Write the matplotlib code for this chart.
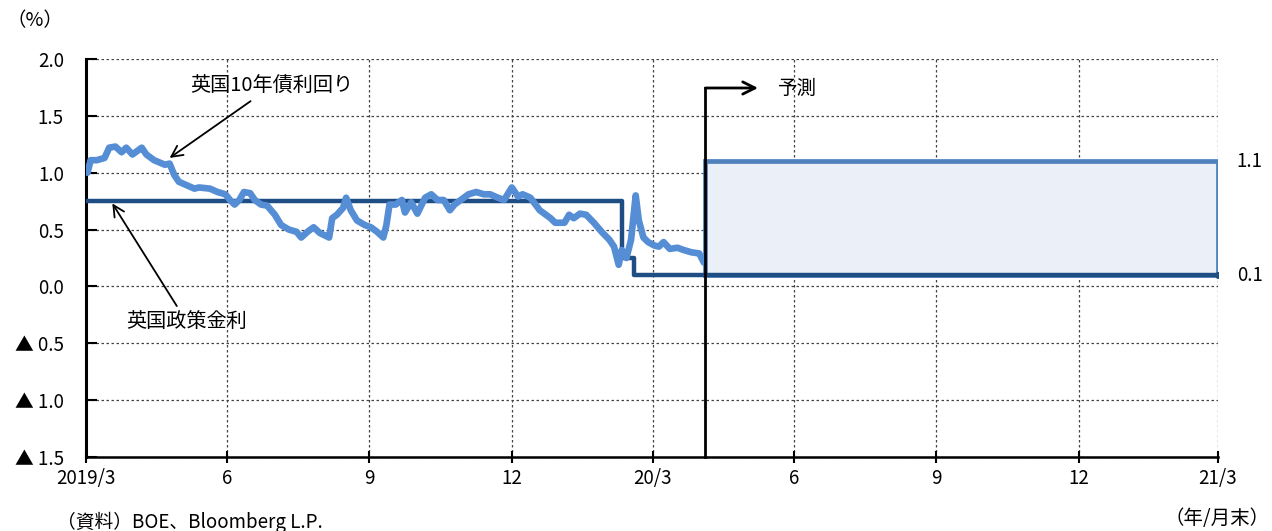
import matplotlib
matplotlib.use('Agg')
import matplotlib.pyplot as plt
import matplotlib.dates as mdates
from matplotlib.patches import Rectangle
import matplotlib.transforms as mtrans
import pandas as pd

plt.rcParams['font.family'] = ['Noto Sans CJK JP', 'DejaVu Sans']

# UK 10y gilt yield
gilt_dates = ['2019-04-01', '2019-04-03', '2019-04-07', '2019-04-12', '2019-04-15', '2019-04-19',
              '2019-04-23', '2019-04-26', '2019-04-30', '2019-05-04', '2019-05-06', '2019-05-09',
              '2019-05-14', '2019-05-21', '2019-05-24', '2019-05-27', '2019-05-30', '2019-06-04',
              '2019-06-09', '2019-06-12', '2019-06-19', '2019-06-24', '2019-06-29', '2019-07-02',
              '2019-07-05', '2019-07-08', '2019-07-11', '2019-07-15', '2019-07-18', '2019-07-22',
              '2019-07-26', '2019-07-31', '2019-08-04', '2019-08-09', '2019-08-14', '2019-08-17',
              '2019-08-21', '2019-08-25', '2019-08-29', '2019-09-01', '2019-09-04', '2019-09-06',
              '2019-09-09', '2019-09-13', '2019-09-15', '2019-09-18', '2019-09-22', '2019-09-27',
              '2019-10-01', '2019-10-05', '2019-10-09', '2019-10-11', '2019-10-13', '2019-10-17',
              '2019-10-21', '2019-10-23', '2019-10-27', '2019-10-31', '2019-11-05', '2019-11-09',
              '2019-11-13', '2019-11-17', '2019-11-21', '2019-11-24', '2019-11-28', '2019-12-03',
              '2019-12-08', '2019-12-13', '2019-12-17', '2019-12-22', '2019-12-26', '2019-12-31',
              '2020-01-04', '2020-01-07', '2020-01-12', '2020-01-18', '2020-01-21', '2020-01-25',
              '2020-01-28', '2020-01-31', '2020-02-03', '2020-02-06', '2020-02-09', '2020-02-13',
              '2020-02-17', '2020-02-22', '2020-02-27', '2020-03-03', '2020-03-06', '2020-03-09',
              '2020-03-11', '2020-03-14', '2020-03-17', '2020-03-20', '2020-03-22', '2020-03-25',
              '2020-03-28', '2020-04-01', '2020-04-04', '2020-04-07', '2020-04-11', '2020-04-16',
              '2020-04-20', '2020-04-25', '2020-04-30', '2020-05-03']
gilt_values = [1.00, 1.11, 1.11, 1.13, 1.22, 1.23,
               1.18, 1.22, 1.16, 1.20, 1.22, 1.16,
               1.11, 1.07, 1.08, 0.98, 0.92, 0.89,
               0.86, 0.87, 0.86, 0.83, 0.81, 0.76,
               0.72, 0.76, 0.83, 0.82, 0.76, 0.72,
               0.71, 0.63, 0.54, 0.50, 0.48, 0.43,
               0.48, 0.52, 0.47, 0.45, 0.43, 0.60,
               0.63, 0.69, 0.78, 0.67, 0.58, 0.54,
               0.52, 0.48, 0.43, 0.54, 0.72, 0.72,
               0.76, 0.65, 0.74, 0.64, 0.78, 0.81,
               0.76, 0.76, 0.67, 0.72, 0.76, 0.81,
               0.83, 0.81, 0.81, 0.78, 0.76, 0.87,
               0.79, 0.81, 0.78, 0.67, 0.64, 0.60,
               0.56, 0.56, 0.56, 0.63, 0.60, 0.64,
               0.63, 0.56, 0.48, 0.41, 0.35, 0.19,
               0.32, 0.25, 0.41, 0.80, 0.58, 0.43,
               0.39, 0.36, 0.35, 0.39, 0.33, 0.34,
               0.32, 0.30, 0.29, 0.21]

# Bank Rate steps
policy_dates = ['2019-03-31', '2020-03-11', '2020-03-19', '2021-03-31']
policy_values = [0.75, 0.25, 0.10, 0.10]

# forecast range
fc_start = '2020-05-04'
fc_end = '2021-03-31'
fc_low = 0.1
fc_high = 1.1

x_ticks = ['2019-03-31', '2019-06-30', '2019-09-30', '2019-12-31', '2020-03-31',
           '2020-06-30', '2020-09-30', '2020-12-31', '2021-03-31']
x_labels = ['2019/3', '6', '9', '12', '20/3', '6', '9', '12', '21/3']
y_ticks = [-1.5, -1.0, -0.5, 0.0, 0.5, 1.0, 1.5, 2.0]
y_labels = ['▲ 1.5', '▲ 1.0', '▲ 0.5', '0.0', '0.5', '1.0', '1.5', '2.0']

c_gilt = '#558ED5'
c_policy = '#1F4E85'
c_box = '#4F81BD'
c_fill = '#EAEFF8'

fig = plt.figure(figsize=(12.72, 5.31), dpi=100)
ax = fig.add_axes([0.0676, 0.1394, 0.8899, 0.7495])

gd = pd.to_datetime(gilt_dates)
pd_ = pd.to_datetime(policy_dates)
fs, fe = pd.to_datetime(fc_start), pd.to_datetime(fc_end)

# forecast box
x0 = mdates.date2num(fs)
x1 = mdates.date2num(fe)
ax.add_patch(Rectangle((x0, fc_low), x1 - x0, fc_high - fc_low,
                       facecolor=c_fill, edgecolor=c_box, lw=3.4, zorder=2))

ax.step(pd_, policy_values, where='post', color=c_policy, lw=3.2, zorder=3)
ax.plot(gd, gilt_values, color=c_gilt, lw=4.8, zorder=4,
        solid_capstyle='round', solid_joinstyle='round')
ax.plot([fe], [fc_low], marker='o', ms=4, color=c_policy, zorder=5)

# forecast marker line
ax.plot([fs, fs], [-1.5, 1.745], color='black', lw=2, zorder=6, clip_on=False)
ax.annotate('', xy=(pd.Timestamp('2020-06-07'), 1.745), xytext=(fs, 1.745),
            arrowprops=dict(arrowstyle='->', color='black', lw=2, mutation_scale=22,
                            shrinkA=0, shrinkB=0), zorder=6)
ax.text(pd.Timestamp('2020-06-20'), 1.745, '予測', fontsize=14, va='center', ha='left')

# series labels
ax.annotate('英国10年債利回り', xy=(pd.Timestamp('2019-05-24'), 1.13),
            xytext=(pd.Timestamp('2019-07-29'), 1.76), fontsize=14.5, ha='center', va='center',
            arrowprops=dict(arrowstyle='->', color='black', lw=1.3, mutation_scale=20,
                            shrinkA=2, shrinkB=0))
ax.annotate('英国政策金利', xy=(pd.Timestamp('2019-04-17'), 0.73),
            xytext=(pd.Timestamp('2019-06-04'), -0.31), fontsize=14.5, ha='center', va='center',
            arrowprops=dict(arrowstyle='->', color='black', lw=1.3, mutation_scale=20,
                            shrinkA=2, shrinkB=0))

trans = mtrans.blended_transform_factory(ax.transAxes, ax.transData)
ax.text(1.028, fc_high, '1.1', transform=trans, fontsize=13.5, ha='center', va='center')
ax.text(1.028, fc_low, '0.1', transform=trans, fontsize=13.5, ha='center', va='center')

ax.set_xlim(pd.Timestamp('2019-03-31'), pd.Timestamp('2021-03-31'))
ax.set_ylim(-1.5, 2.0)
ax.set_xticks(pd.to_datetime(x_ticks))
ax.set_xticklabels(x_labels, fontsize=13.5)
ax.set_yticks(y_ticks)
ax.set_yticklabels(y_labels, fontsize=13.5)
ax.tick_params(axis='x', direction='inout', length=8, width=1.5, pad=4)
ax.tick_params(axis='y', direction='in', length=8, width=1.5, pad=16)

ax.grid(True, color='#444444', linestyle=(0, (2, 2)), lw=0.9)
ax.set_axisbelow(True)
for s in ['top', 'right']:
    ax.spines[s].set_visible(False)
ax.spines['left'].set_linewidth(2.2)
ax.spines['bottom'].set_linewidth(1.8)

fig.text(0.005, 0.962, '（%）', fontsize=14, ha='left', va='center')
fig.text(0.045, 0.017, '（資料）BOE、Bloomberg L.P.', fontsize=13.5, ha='left', va='center')
fig.text(0.998, 0.024, '（年/月末）', fontsize=14, ha='right', va='center')

fig.savefig('out.png', dpi=100)
